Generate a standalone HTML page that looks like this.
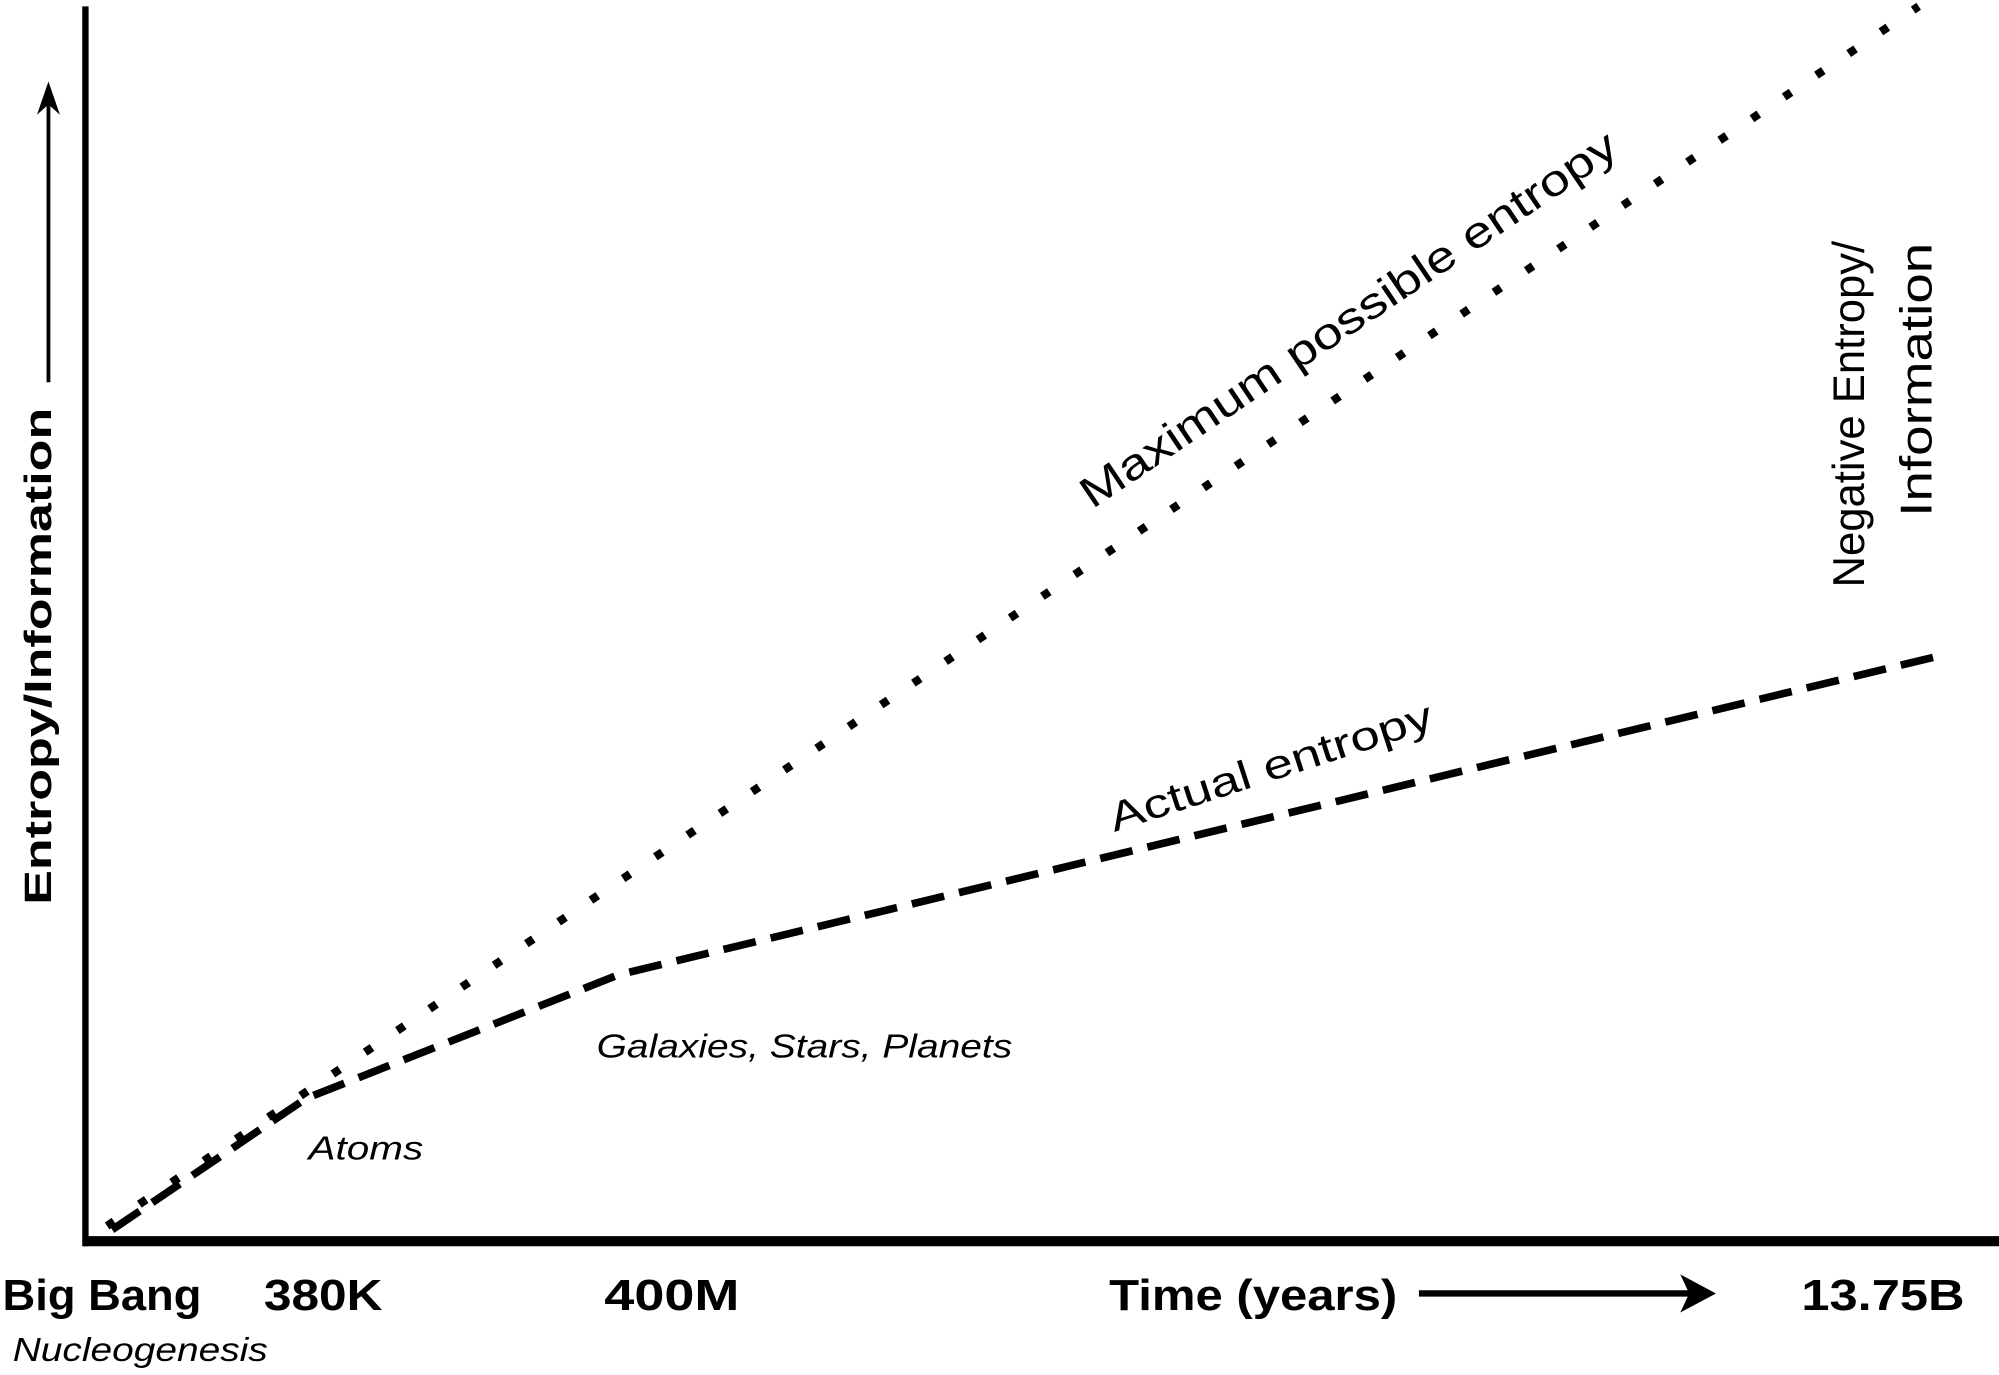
<!DOCTYPE html>
<html><head><meta charset="utf-8"><style>html,body{margin:0;padding:0;background:#fff}svg{display:block}</style></head>
<body>
<svg width="1999" height="1375" viewBox="0 0 1568 1079" preserveAspectRatio="none" xmlns="http://www.w3.org/2000/svg" font-family="'Liberation Sans', sans-serif">
<rect width="1568" height="1079" fill="#fff"/>
<line x1="67" y1="5" x2="67" y2="978" stroke="#000" stroke-width="5"/>
<line x1="65" y1="974" x2="1568" y2="974" stroke="#000" stroke-width="8"/>
<line x1="38" y1="300" x2="38" y2="80" stroke="#000" stroke-width="3"/>
<polygon points="38,64 29,90 38,82 47,90" fill="#000"/>
<text transform="translate(40,515) rotate(-90)" text-anchor="middle" font-weight="bold" font-size="30" textLength="390" lengthAdjust="spacingAndGlyphs">Entropy/Information</text>
<line x1="84" y1="962" x2="1505" y2="5" stroke="#000" stroke-width="6.5" stroke-dasharray="6.5 24"/>
<polyline points="88,965 240,862 485,765 1520,515" fill="none" stroke="#000" stroke-width="6" stroke-dasharray="26 12"/>
<text transform="translate(1064,260) rotate(-34)" text-anchor="middle" font-size="34" textLength="500" lengthAdjust="spacingAndGlyphs">Maximum possible entropy</text>
<text transform="translate(1000,612) rotate(-18)" text-anchor="middle" font-size="32" textLength="265" lengthAdjust="spacingAndGlyphs">Actual entropy</text>
<text transform="translate(1462,325) rotate(-90)" text-anchor="middle" font-size="35" textLength="272" lengthAdjust="spacingAndGlyphs">Negative Entropy/</text>
<text transform="translate(1515,298) rotate(-90)" text-anchor="middle" font-size="35" textLength="215" lengthAdjust="spacingAndGlyphs">Information</text>
<text x="468" y="830" font-style="italic" font-size="26" textLength="326" lengthAdjust="spacingAndGlyphs">Galaxies, Stars, Planets</text>
<text x="242" y="910" font-style="italic" font-size="26" textLength="90" lengthAdjust="spacingAndGlyphs">Atoms</text>
<text x="2" y="1028" font-weight="bold" font-size="34" textLength="156" lengthAdjust="spacingAndGlyphs">Big Bang</text>
<text x="207" y="1028" font-weight="bold" font-size="34" textLength="93" lengthAdjust="spacingAndGlyphs">380K</text>
<text x="474" y="1028" font-weight="bold" font-size="34" textLength="106" lengthAdjust="spacingAndGlyphs">400M</text>
<text x="870" y="1028" font-weight="bold" font-size="34" textLength="226" lengthAdjust="spacingAndGlyphs">Time (years)</text>
<line x1="1113" y1="1015" x2="1325" y2="1015" stroke="#000" stroke-width="5"/>
<polygon points="1346,1015 1318,1000 1325,1015 1318,1030" fill="#000"/>
<text x="1413" y="1028" font-weight="bold" font-size="34" textLength="128" lengthAdjust="spacingAndGlyphs">13.75B</text>
<text x="10" y="1068" font-style="italic" font-size="26" textLength="200" lengthAdjust="spacingAndGlyphs">Nucleogenesis</text>
</svg>
</body></html>
